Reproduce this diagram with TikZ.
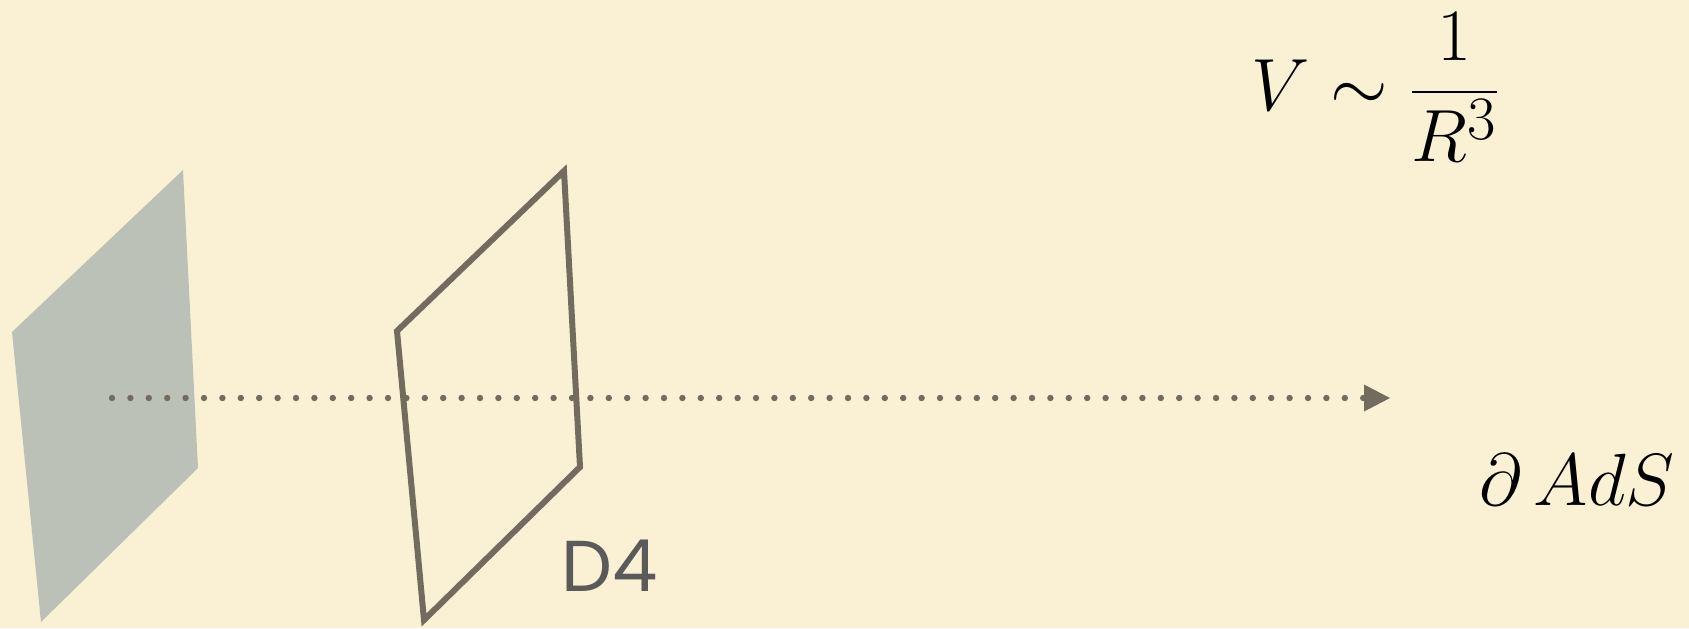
\documentclass[tikz,border=0pt]{standalone}
\usepackage{fontspec}
\newfontfamily\labelfont{Poppins}
\usetikzlibrary{arrows.meta}
\definecolor{bgcream}{HTML}{FAF1D4}
\definecolor{plategrey}{HTML}{BCC1B8}
\definecolor{braneline}{HTML}{736C5E}
\definecolor{labelgrey}{HTML}{5A5A5A}
\newcommand{\bigmath}[1]{\scalebox{1.487}{\fontsize{24.88}{30}\selectfont #1}}
\tikzset{
  bgbox/.style={fill=bgcream, draw=none},
  plate/.style={fill=plategrey, draw=none},
  brane/.style={draw=braneline, line width=3pt, line join=miter},
  dotarrow/.style={draw=braneline, line width=3.2pt, line cap=round,
     dash pattern=on 0pt off 9.2pt,
     -{Triangle[length=13pt,width=13.5pt,line width=0pt]}},
  mathlabel/.style={inner sep=0pt},
  dlabel/.style={inner sep=0pt, text=labelgrey, font=\labelfont\fontsize{36}{43}\selectfont}
}
\begin{document}
\begin{tikzpicture}[x=0.5pt,y=-0.5pt]
  \path[bgbox] (0,0) rectangle (1689,628);
  \useasboundingbox (0,0) rectangle (1689,628);
  % grey plane
  \path[plate] (183,170) -- (12,332) -- (41,622) -- (198,468) -- cycle;
  % D4 outline
  \draw[brane] (564,171) -- (397,331) -- (424,620) -- (580,467) -- cycle;
  % dotted arrow
  \coordinate (start) at (112,398);
  \coordinate (tip) at (1390,398);
  \draw[dotarrow] (start) -- (tip);
  % labels
  \node[dlabel, anchor=base west] (d4) at (561,591) {D4};
  \node[mathlabel, anchor=center] (pot) at (1376,87) {\bigmath{$\displaystyle V\sim\frac{1}{R^3}$}};
  \node[mathlabel, anchor=base] (ads) at (1577,505) {\bigmath{$\partial\,AdS$}};
\end{tikzpicture}
\end{document}
